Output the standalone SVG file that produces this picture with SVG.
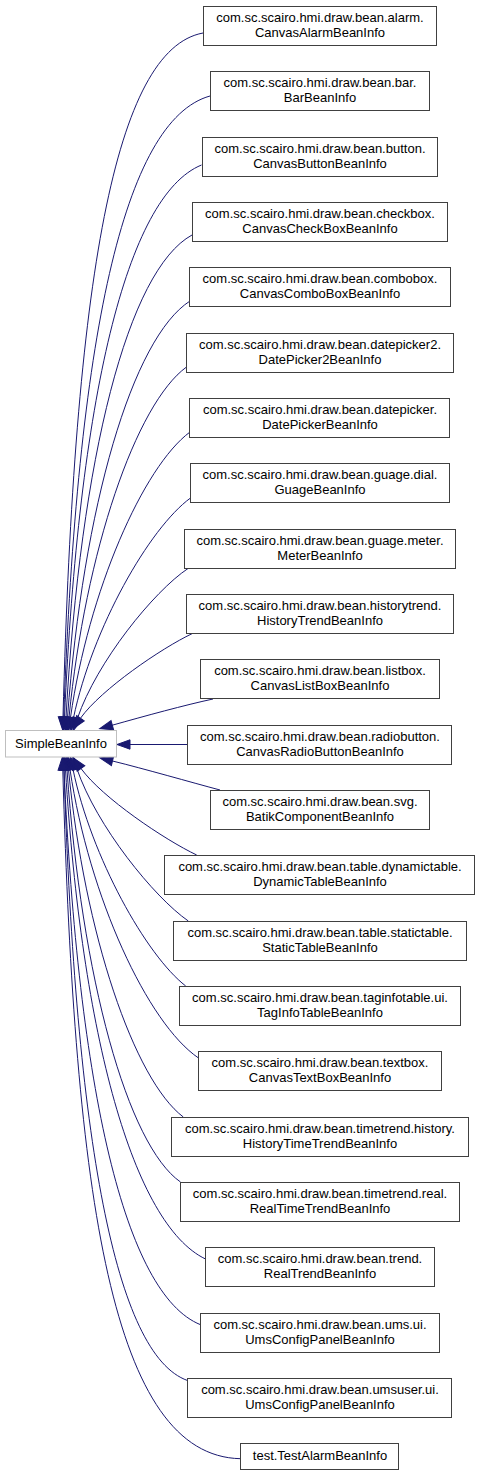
<svg xmlns="http://www.w3.org/2000/svg" width="480" height="1475" viewBox="0 0 480 1475">
<style>
.n rect{fill:#ffffff;stroke:#404040;stroke-width:1}
.r rect{fill:#ffffff;stroke:#bfbfbf;stroke-width:1}
text{font-family:"Liberation Sans",Arial,sans-serif;font-size:13px;fill:#000000;text-anchor:middle}
.e path{fill:none;stroke:#191970;stroke-width:1;marker-end:url(#ah)}
</style>
<defs>
<marker id="ah" markerUnits="userSpaceOnUse" markerWidth="16" markerHeight="12" refX="0" refY="5" orient="auto" viewBox="0 0 16 10" overflow="visible">
<path d="M0,0.3 L13,5 L0,9.7 z" fill="#191970" stroke="#191970" stroke-width="1"/>
</marker>
</defs>
<rect width="480" height="1475" fill="#ffffff"/>
<g id="edges" class="e">
<path d="M203,33 C114.8,49.4 74.6,278 63,717"/>
<path d="M210,96 C123.3,120.2 77.4,338.2 63.7,717"/>
<path d="M201.5,165 C126,195.9 78.9,399 64.5,717"/>
<path d="M192,235 C127.9,270.2 80.7,456.4 66,717.2"/>
<path d="M190,301 C132.4,338 83.3,505.8 67.5,717.3"/>
<path d="M186.5,367 C136,403.8 85.5,551 69,717.4"/>
<path d="M190,432 C143.3,466.5 88.5,591 70.5,717.5"/>
<path d="M190.5,498 C149.3,528.1 92.5,627.7 73.5,717.8"/>
<path d="M188,568.5 C153.7,591.4 96.7,662 77.5,718.2"/>
<path d="M192,633.7 C161.8,648 101.1,689.3 80.5,718.2"/>
<path d="M213,699 C185,705 145,716 112.3,725.2"/>
<path d="M187.5,744.5 L130,744.5"/>
<path d="M220,790 C190,782 145,769 112.5,761"/>
<path d="M196.7,855 C164.7,839.8 102.4,797.9 81,768.5"/>
<path d="M188.3,921 C153.7,896.9 96.4,825.8 77,769"/>
<path d="M185.7,986 C146.4,955.5 91.4,857.5 73,769.4"/>
<path d="M198.5,1058 C147.7,1023.4 89.3,897.6 70,769.6"/>
<path d="M183.3,1117 C134.2,1079.9 84.6,934.2 68.5,769.7"/>
<path d="M180.5,1182 C127.5,1144.9 81.6,978.4 67,769.8"/>
<path d="M205.5,1259 C133.3,1224.3 81.7,1036.5 65.5,769.9"/>
<path d="M200.5,1324.7 C124.8,1294.2 78.3,1090 64,770"/>
<path d="M187.5,1380.5 C115.2,1354.9 75.8,1139.4 64,770"/>
<path d="M240.5,1458.7 C112,1456 75,1200 62.8,770"/>
</g>
<g id="SimpleBeanInfo" class="r"><rect x="5.5" y="730.5" width="111" height="26.5"/><text x="61" y="748">SimpleBeanInfo</text></g>
<g id="n0" class="n"><rect x="203.5" y="6.5" width="233" height="39"/><text x="320" y="22">com.sc.scairo.hmi.draw.bean.alarm.</text><text x="320" y="36.5">CanvasAlarmBeanInfo</text></g>
<g id="n1" class="n"><rect x="210.5" y="71.5" width="219" height="39"/><text x="320" y="87">com.sc.scairo.hmi.draw.bean.bar.</text><text x="320" y="101.5">BarBeanInfo</text></g>
<g id="n2" class="n"><rect x="202.5" y="137.5" width="235" height="39"/><text x="320" y="153">com.sc.scairo.hmi.draw.bean.button.</text><text x="320" y="167.5">CanvasButtonBeanInfo</text></g>
<g id="n3" class="n"><rect x="192.5" y="202.5" width="255" height="39"/><text x="320" y="218">com.sc.scairo.hmi.draw.bean.checkbox.</text><text x="320" y="232.5">CanvasCheckBoxBeanInfo</text></g>
<g id="n4" class="n"><rect x="189.5" y="267.5" width="261" height="39"/><text x="320" y="283">com.sc.scairo.hmi.draw.bean.combobox.</text><text x="320" y="297.5">CanvasComboBoxBeanInfo</text></g>
<g id="n5" class="n"><rect x="186.5" y="333.5" width="267" height="39"/><text x="320" y="349">com.sc.scairo.hmi.draw.bean.datepicker2.</text><text x="320" y="363.5">DatePicker2BeanInfo</text></g>
<g id="n6" class="n"><rect x="189.5" y="398.5" width="260" height="39"/><text x="320" y="414">com.sc.scairo.hmi.draw.bean.datepicker.</text><text x="320" y="428.5">DatePickerBeanInfo</text></g>
<g id="n7" class="n"><rect x="190.5" y="463.5" width="259" height="39"/><text x="320" y="479">com.sc.scairo.hmi.draw.bean.guage.dial.</text><text x="320" y="493.5">GuageBeanInfo</text></g>
<g id="n8" class="n"><rect x="184.5" y="529.5" width="271" height="39"/><text x="320" y="545">com.sc.scairo.hmi.draw.bean.guage.meter.</text><text x="320" y="559.5">MeterBeanInfo</text></g>
<g id="n9" class="n"><rect x="186.5" y="594.5" width="267" height="39"/><text x="320" y="610">com.sc.scairo.hmi.draw.bean.historytrend.</text><text x="320" y="624.5">HistoryTrendBeanInfo</text></g>
<g id="n10" class="n"><rect x="200.5" y="659.5" width="239" height="39"/><text x="320" y="675">com.sc.scairo.hmi.draw.bean.listbox.</text><text x="320" y="689.5">CanvasListBoxBeanInfo</text></g>
<g id="n11" class="n"><rect x="187.5" y="725.5" width="264" height="39"/><text x="320" y="741">com.sc.scairo.hmi.draw.bean.radiobutton.</text><text x="320" y="755.5">CanvasRadioButtonBeanInfo</text></g>
<g id="n12" class="n"><rect x="210.5" y="790.5" width="219" height="39"/><text x="320" y="806">com.sc.scairo.hmi.draw.bean.svg.</text><text x="320" y="820.5">BatikComponentBeanInfo</text></g>
<g id="n13" class="n"><rect x="164.5" y="855.5" width="310" height="39"/><text x="320" y="871">com.sc.scairo.hmi.draw.bean.table.dynamictable.</text><text x="320" y="885.5">DynamicTableBeanInfo</text></g>
<g id="n14" class="n"><rect x="173.5" y="921.5" width="293" height="39"/><text x="320" y="937">com.sc.scairo.hmi.draw.bean.table.statictable.</text><text x="320" y="951.5">StaticTableBeanInfo</text></g>
<g id="n15" class="n"><rect x="179.5" y="986.5" width="281" height="39"/><text x="320" y="1002">com.sc.scairo.hmi.draw.bean.taginfotable.ui.</text><text x="320" y="1016.5">TagInfoTableBeanInfo</text></g>
<g id="n16" class="n"><rect x="198.5" y="1051.5" width="243" height="39"/><text x="320" y="1067">com.sc.scairo.hmi.draw.bean.textbox.</text><text x="320" y="1081.5">CanvasTextBoxBeanInfo</text></g>
<g id="n17" class="n"><rect x="171.5" y="1117.5" width="297" height="39"/><text x="320" y="1133">com.sc.scairo.hmi.draw.bean.timetrend.history.</text><text x="320" y="1147.5">HistoryTimeTrendBeanInfo</text></g>
<g id="n18" class="n"><rect x="180.5" y="1182.5" width="279" height="39"/><text x="320" y="1198">com.sc.scairo.hmi.draw.bean.timetrend.real.</text><text x="320" y="1212.5">RealTimeTrendBeanInfo</text></g>
<g id="n19" class="n"><rect x="205.5" y="1247.5" width="229" height="39"/><text x="320" y="1263">com.sc.scairo.hmi.draw.bean.trend.</text><text x="320" y="1277.5">RealTrendBeanInfo</text></g>
<g id="n20" class="n"><rect x="200.5" y="1313.5" width="239" height="39"/><text x="320" y="1329">com.sc.scairo.hmi.draw.bean.ums.ui.</text><text x="320" y="1343.5">UmsConfigPanelBeanInfo</text></g>
<g id="n21" class="n"><rect x="187.5" y="1378.5" width="264" height="39"/><text x="320" y="1394">com.sc.scairo.hmi.draw.bean.umsuser.ui.</text><text x="320" y="1408.5">UmsConfigPanelBeanInfo</text></g>
<g id="n22" class="n"><rect x="240.5" y="1443.5" width="158" height="26"/><text x="320" y="1460">test.TestAlarmBeanInfo</text></g>
</svg>
